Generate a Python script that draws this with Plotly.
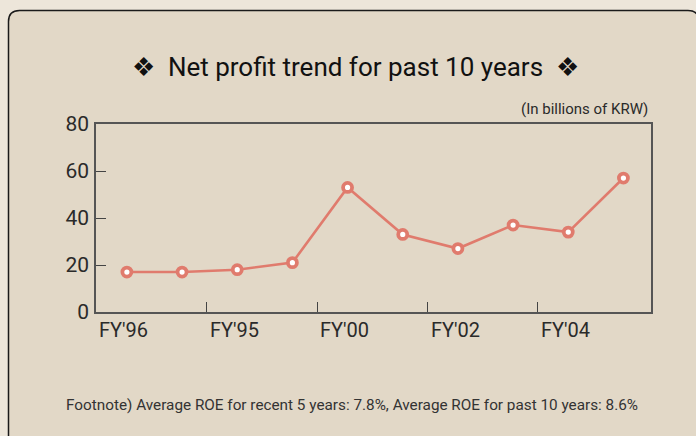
import plotly.graph_objects as go

years = ["FY'96", "FY'97", "FY'98", "FY'99", "FY'00", "FY'01", "FY'02", "FY'03", "FY'04", "FY'05"]
net_profit = [17, 17, 18, 21, 53, 33, 27, 37, 34, 57]
x_tick_labels = ["FY'96", "FY'95", "FY'00", "FY'02", "FY'04"]
y_ticks = [0, 20, 40, 60, 80]

W, H = 696, 436
L, R, T, B = 96, 651, 124, 312
FONT = "Roboto, sans-serif"
LINE = "#e07b6d"

def px(x):
    return (x - L) / (R - L)

def py(y):
    return (B - y) / (B - T)

xs = list(range(len(years)))

fig = go.Figure()
fig.add_trace(go.Scatter(
    x=xs, y=net_profit, mode="lines+markers",
    line=dict(color=LINE, width=2.6),
    marker=dict(symbol="circle", size=9, color="white", line=dict(color=LINE, width=3.8)),
    hoverinfo="skip", showlegend=False, cliponaxis=False,
))

# rounded panel
x0, y0, x1, y1, r = 8.5, 10.5, 699, 446, 11
path = (f"M {px(x0)},{py(y0 + r)} Q {px(x0)},{py(y0)} {px(x0 + r)},{py(y0)} "
        f"L {px(x1 - r)},{py(y0)} Q {px(x1)},{py(y0)} {px(x1)},{py(y0 + r)} "
        f"L {px(x1)},{py(y1 - r)} Q {px(x1)},{py(y1)} {px(x1 - r)},{py(y1)} "
        f"L {px(x0 + r)},{py(y1)} Q {px(x0)},{py(y1)} {px(x0)},{py(y1 - r)} Z")
fig.add_shape(type="path", path=path, xref="paper", yref="paper",
              fillcolor="#e2d8c7", line=dict(color="#1a1a1a", width=1.5), layer="below")

tick_pos = [-0.56, 1.45, 3.45, 5.45, 7.45]
annotations = []
for t, lab in zip(tick_pos, x_tick_labels):
    annotations.append(dict(x=t + 0.02, y=py(330), xref="x", yref="paper", text=lab,
                            showarrow=False, xanchor="left", yanchor="middle",
                            font=dict(family=FONT, size=20, color="#2a2a2a")))
annotations.append(dict(x=px(355), y=py(67), xref="paper", yref="paper",
                        text="❖  Net profit trend for past 10 years  ❖", showarrow=False,
                        xanchor="center", yanchor="middle",
                        font=dict(family=FONT, size=26, color="#111111")))
annotations.append(dict(x=px(650), y=py(109), xref="paper", yref="paper",
                        text="(In billions of KRW)", showarrow=False,
                        xanchor="right", yanchor="middle",
                        font=dict(family=FONT, size=15, color="#2a2a2a")))
annotations.append(dict(x=px(64), y=py(405), xref="paper", yref="paper",
                        text="Footnote) Average ROE for recent 5 years: 7.8%, Average ROE for past 10 years: 8.6%",
                        showarrow=False, xanchor="left", yanchor="middle",
                        font=dict(family=FONT, size=15.3, color="#333333")))

fig.update_layout(
    width=W, height=H,
    margin=dict(l=L, r=W - R, t=T, b=H - B, pad=0),
    paper_bgcolor="#ede6da", plot_bgcolor="white",
    annotations=annotations,
    xaxis=dict(range=[-0.56, 9.5], tickvals=tick_pos[1:], ticktext=["", "", "", ""],
               ticks="inside", ticklen=10, tickwidth=1.2, tickcolor="#444",
               showgrid=False, zeroline=False, showline=True, linecolor="#555", linewidth=1.5,
               mirror=True, fixedrange=True),
    yaxis=dict(range=[0, 80], tickvals=y_ticks, ticks="inside", ticklen=10, tickwidth=1.2,
               tickcolor="#444", showgrid=False, zeroline=False, showline=True,
               linecolor="#555", linewidth=1.5, mirror=True, ticklabelstandoff=1,
               tickfont=dict(family=FONT, size=21, color="#2a2a2a"), fixedrange=True),
)

fig.write_html("out.html", config={"displayModeBar": False},
               post_script="document.body.style.margin='0';document.body.style.overflow='hidden';")
